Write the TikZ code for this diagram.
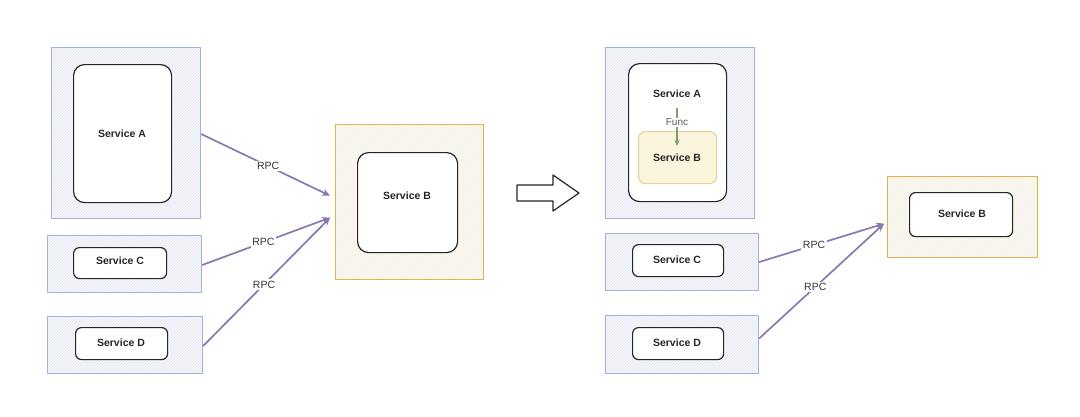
\documentclass[tikz,border=0pt]{standalone}
\usepackage{fontspec}
\setmainfont{Liberation Sans}
\usetikzlibrary{patterns,arrows.meta,calc}
\definecolor{blueedge}{HTML}{A3B3D4}
\definecolor{bluefill}{HTML}{F5F7FB}
\definecolor{hatchb}{HTML}{E4E8F1}
\definecolor{yellowedge}{HTML}{DDB550}
\definecolor{yellowfill}{HTML}{FCFAF4}
\definecolor{hatchy}{HTML}{F0ECE0}
\definecolor{innery}{HTML}{FAF5DC}
\definecolor{inneryedge}{HTML}{E3D398}
\definecolor{rpcline}{HTML}{8A78AE}
\definecolor{funcgreen}{HTML}{7FA06E}
\tikzset{
  outerblue/.style={draw=blueedge, line width=1.1pt,
    preaction={fill=bluefill}, preaction={pattern=north east lines, pattern color=hatchb},
    anchor=north west, inner sep=0pt},
  outeryellow/.style={draw=yellowedge, line width=1.4pt,
    preaction={fill=yellowfill}, preaction={pattern=north east lines, pattern color=hatchy},
    anchor=north west, inner sep=0pt},
  innerbox/.style={draw=black!85, line width=1.2pt, fill=white, rounded corners=6pt,
    anchor=north west, inner sep=0pt},
  innerbig/.style={innerbox, rounded corners=11pt},
  inneryel/.style={draw=inneryedge, line width=1.1pt, fill=innery, rounded corners=7pt,
    anchor=north west, inner sep=0pt},
  svc/.style={font=\fontsize{10.5}{12}\selectfont\bfseries, text=black!85},
  rpc/.style={draw=rpcline, line width=1.7pt, -{Stealth[length=8pt,width=7pt]}},
  rpclabel/.style={fill=white, inner sep=1.5pt, font=\fontsize{10.5}{12}\selectfont, text=black!80},
  bigarrow/.style={draw=black!85, line width=1.2pt, fill=white, line join=round},
}
\begin{document}
\begin{tikzpicture}[x=1pt,y=-1pt]
\useasboundingbox (0,0) rectangle (1080,416);
% ---------- Left side ----------
\node[outerblue, minimum width=149pt, minimum height=171pt] (Ao) at (51,47) {};
\node[innerbig, minimum width=98pt, minimum height=138pt] (Ai) at (73,64) {};
\node[svc] (At) at (122,134) {Service A};

\node[outerblue, minimum width=154pt, minimum height=57pt] (Co) at (47,235) {};
\node[innerbox, minimum width=93pt, minimum height=31pt] (Ci) at (73,247) {};
\node[svc] (Ct) at (120,261) {Service C};

\node[outerblue, minimum width=155pt, minimum height=57pt] (Do) at (47,316) {};
\node[innerbox, minimum width=92pt, minimum height=32pt] (Di) at (75,327) {};
\node[svc] (Dt) at (121,343) {Service D};

\node[outeryellow, minimum width=148pt, minimum height=155pt] (Bo) at (335,124) {};
\node[innerbig, minimum width=100pt, minimum height=100pt] (Bi) at (357,152) {};
\node[svc] (Bt) at (407,196) {Service B};

\draw[rpc] (Ao.east |- At) -- node[rpclabel, pos=0.52] {RPC} ([xshift=-5pt,yshift=6.5pt]Bo.west);
\draw[rpc] ([yshift=-1pt]Co.east) -- node[rpclabel, pos=0.48] {RPC} ([xshift=-5pt,yshift=-15.5pt]Bo.west);
\draw[rpc] ([yshift=-1pt]Do.east) -- node[rpclabel, pos=0.48] {RPC} ([xshift=-5pt,yshift=-15.5pt]Bo.west);

% ---------- Big arrow ----------
\draw[bigarrow] (517,185) -- (553,185) -- (553,175) -- (579,193) -- (553,211) -- (553,201) -- (517,201) -- cycle;

% ---------- Right side ----------
\node[outerblue, minimum width=149pt, minimum height=171pt] (Ao2) at (605,47) {};
\node[innerbig, minimum width=98pt, minimum height=138pt] (Ai2) at (628,63) {};
\node[svc] (At2) at (677,94) {Service A};
\node[inneryel, minimum width=78pt, minimum height=52pt] (Bi2) at (638,131) {};
\node[svc] (Bt2) at (677,158) {Service B};
\coordinate (fs) at (677,108);
\coordinate (fe) at (677,146);
\draw[draw=funcgreen, line width=1.1pt, -{Stealth[length=6pt,width=5pt]}] (fs) -- node[fill=white, inner sep=1pt, font=\fontsize{10}{12}\selectfont, text=black!65, pos=0.37] {Func} (fe);

\node[outerblue, minimum width=153pt, minimum height=57pt] (Co2) at (605,233) {};
\node[innerbox, minimum width=91pt, minimum height=32pt] (Ci2) at (632,244) {};
\node[svc] (Ct2) at (677,260) {Service C};

\node[outerblue, minimum width=153pt, minimum height=58pt] (Do2) at (605,315) {};
\node[innerbox, minimum width=91pt, minimum height=32pt] (Di2) at (632,327) {};
\node[svc] (Dt2) at (677,343) {Service D};

\node[outeryellow, minimum width=150pt, minimum height=81pt] (Bo2) at (887,176) {};
\node[innerbox, minimum width=103pt, minimum height=44pt] (Bi3) at (909,192) {};
\node[svc] (Bt3) at (962,214) {Service B};

\draw[rpc] (Co2.east) -- node[rpclabel, pos=0.44] {RPC} ([xshift=-3pt,yshift=-6.5pt]Bo2.west);
\draw[rpc] ([yshift=6pt]Do2.east) -- node[rpclabel, pos=0.45] {RPC} ([xshift=-3pt,yshift=-6.5pt]Bo2.west);
\end{tikzpicture}
\end{document}
